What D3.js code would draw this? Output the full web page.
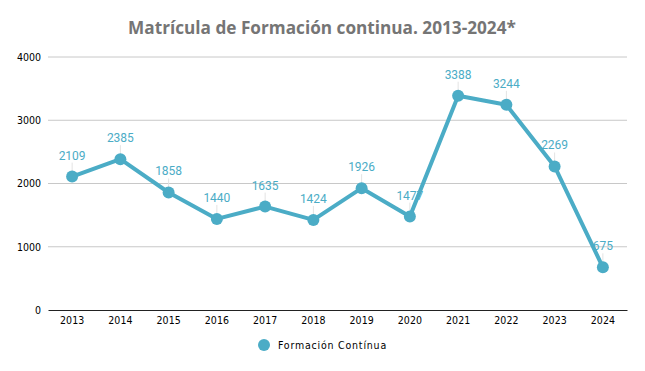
<!DOCTYPE html>
<html>
<head>
<meta charset="utf-8">
<script src="https://cdn.jsdelivr.net/npm/d3@7"></script>
<style>
  body { margin: 0; background: #fff; }
  svg { display: block; }
</style>
</head>
<body>
<div id="container"></div>
<script>
var width = 645, height = 371;

var years = ["2013", "2014", "2015", "2016", "2017", "2018", "2019", "2020", "2021", "2022", "2023", "2024"];
var matricula = [2109, 2385, 1858, 1440, 1635, 1424, 1926, 1477, 3388, 3244, 2269, 675];
var yTicks = [0, 1000, 2000, 3000, 4000];
var seriesName = "Formación Contínua";
var title = "Matrícula de Formación continua. 2013-2024*";

var color = "#4bacc6";
var margin = {top: 57, right: 18, bottom: 61, left: 48};

var svg = d3.select("#container")
    .append("svg")
    .attr("width", width)
    .attr("height", height);

var x = d3.scaleBand()
    .domain(years)
    .range([margin.left, width - margin.right]);

var y = d3.scaleLinear()
    .domain([0, 4000])
    .range([height - margin.bottom, margin.top]);

// titre
svg.append("text")
    .attr("x", 322)
    .attr("y", 34)
    .attr("text-anchor", "middle")
    .style("font-family", "'Open Sans', sans-serif")
    .style("font-weight", "bold")
    .style("font-size", "17.2px")
    .style("fill", "#757575")
    .text(title);

// grille
svg.append("g")
    .selectAll("line")
    .data(yTicks.filter(function(d) { return d > 0; }))
    .enter()
    .append("line")
    .attr("x1", margin.left)
    .attr("x2", width - margin.right)
    .attr("y1", function(d) { return y(d); })
    .attr("y2", function(d) { return y(d); })
    .style("stroke", "#c8c8c8")
    .style("stroke-width", 1);

// axe y
var yAxis = svg.append("g")
    .attr("transform", "translate(" + margin.left + ",0)")
    .call(d3.axisLeft(y).tickValues(yTicks).tickFormat(d3.format("d")).tickSize(0).tickPadding(7));
yAxis.select(".domain").remove();
yAxis.selectAll("text")
    .style("font-family", "'DejaVu Sans Condensed', 'DejaVu Sans', sans-serif")
    .style("font-size", "10.5px")
    .style("fill", "#000");

// axe x
var xAxis = svg.append("g")
    .attr("transform", "translate(0," + y(0) + ")")
    .call(d3.axisBottom(x).tickSize(0).tickPadding(7));
xAxis.select(".domain")
    .style("stroke", "#222")
    .style("stroke-width", 1);
xAxis.selectAll("text")
    .style("font-family", "'DejaVu Sans Condensed', 'DejaVu Sans', sans-serif")
    .style("font-size", "10.5px")
    .style("fill", "#000");

var cx = function(d, i) { return x(years[i]) + x.bandwidth() / 2; };

// etiquettes (sous la ligne)
var labels = svg.append("g");
labels.selectAll("line")
    .data(matricula)
    .enter()
    .append("line")
    .attr("x1", cx)
    .attr("x2", cx)
    .attr("y1", function(d) { return y(d) - 14; })
    .attr("y2", function(d) { return y(d); })
    .style("stroke", "#e3e3e3")
    .style("stroke-width", 1);

labels.selectAll("text")
    .data(matricula)
    .enter()
    .append("text")
    .attr("x", cx)
    .attr("y", function(d) { return y(d) - 17; })
    .attr("text-anchor", "middle")
    .style("font-family", "Roboto, sans-serif")
    .style("font-size", "12px")
    .style("fill", color)
    .text(function(d) { return d; });

// ligne
var line = d3.line()
    .x(cx)
    .y(function(d) { return y(d); });

svg.append("path")
    .datum(matricula)
    .attr("d", line)
    .style("fill", "none")
    .style("stroke", color)
    .style("stroke-width", 4)
    .style("stroke-linejoin", "round");

svg.append("g")
    .selectAll("circle")
    .data(matricula)
    .enter()
    .append("circle")
    .attr("cx", cx)
    .attr("cy", function(d) { return y(d); })
    .attr("r", 6)
    .style("fill", color);

// legende
var legend = svg.append("g").attr("transform", "translate(264,345)");
legend.append("circle")
    .attr("r", 6)
    .style("fill", color);
legend.append("text")
    .attr("x", 14)
    .attr("y", 4)
    .style("font-family", "'DejaVu Sans Condensed', 'DejaVu Sans', sans-serif")
    .style("font-size", "10.5px")
    .style("letter-spacing", "0.8px")
    .style("fill", "#000")
    .text(seriesName);
</script>
</body>
</html>
